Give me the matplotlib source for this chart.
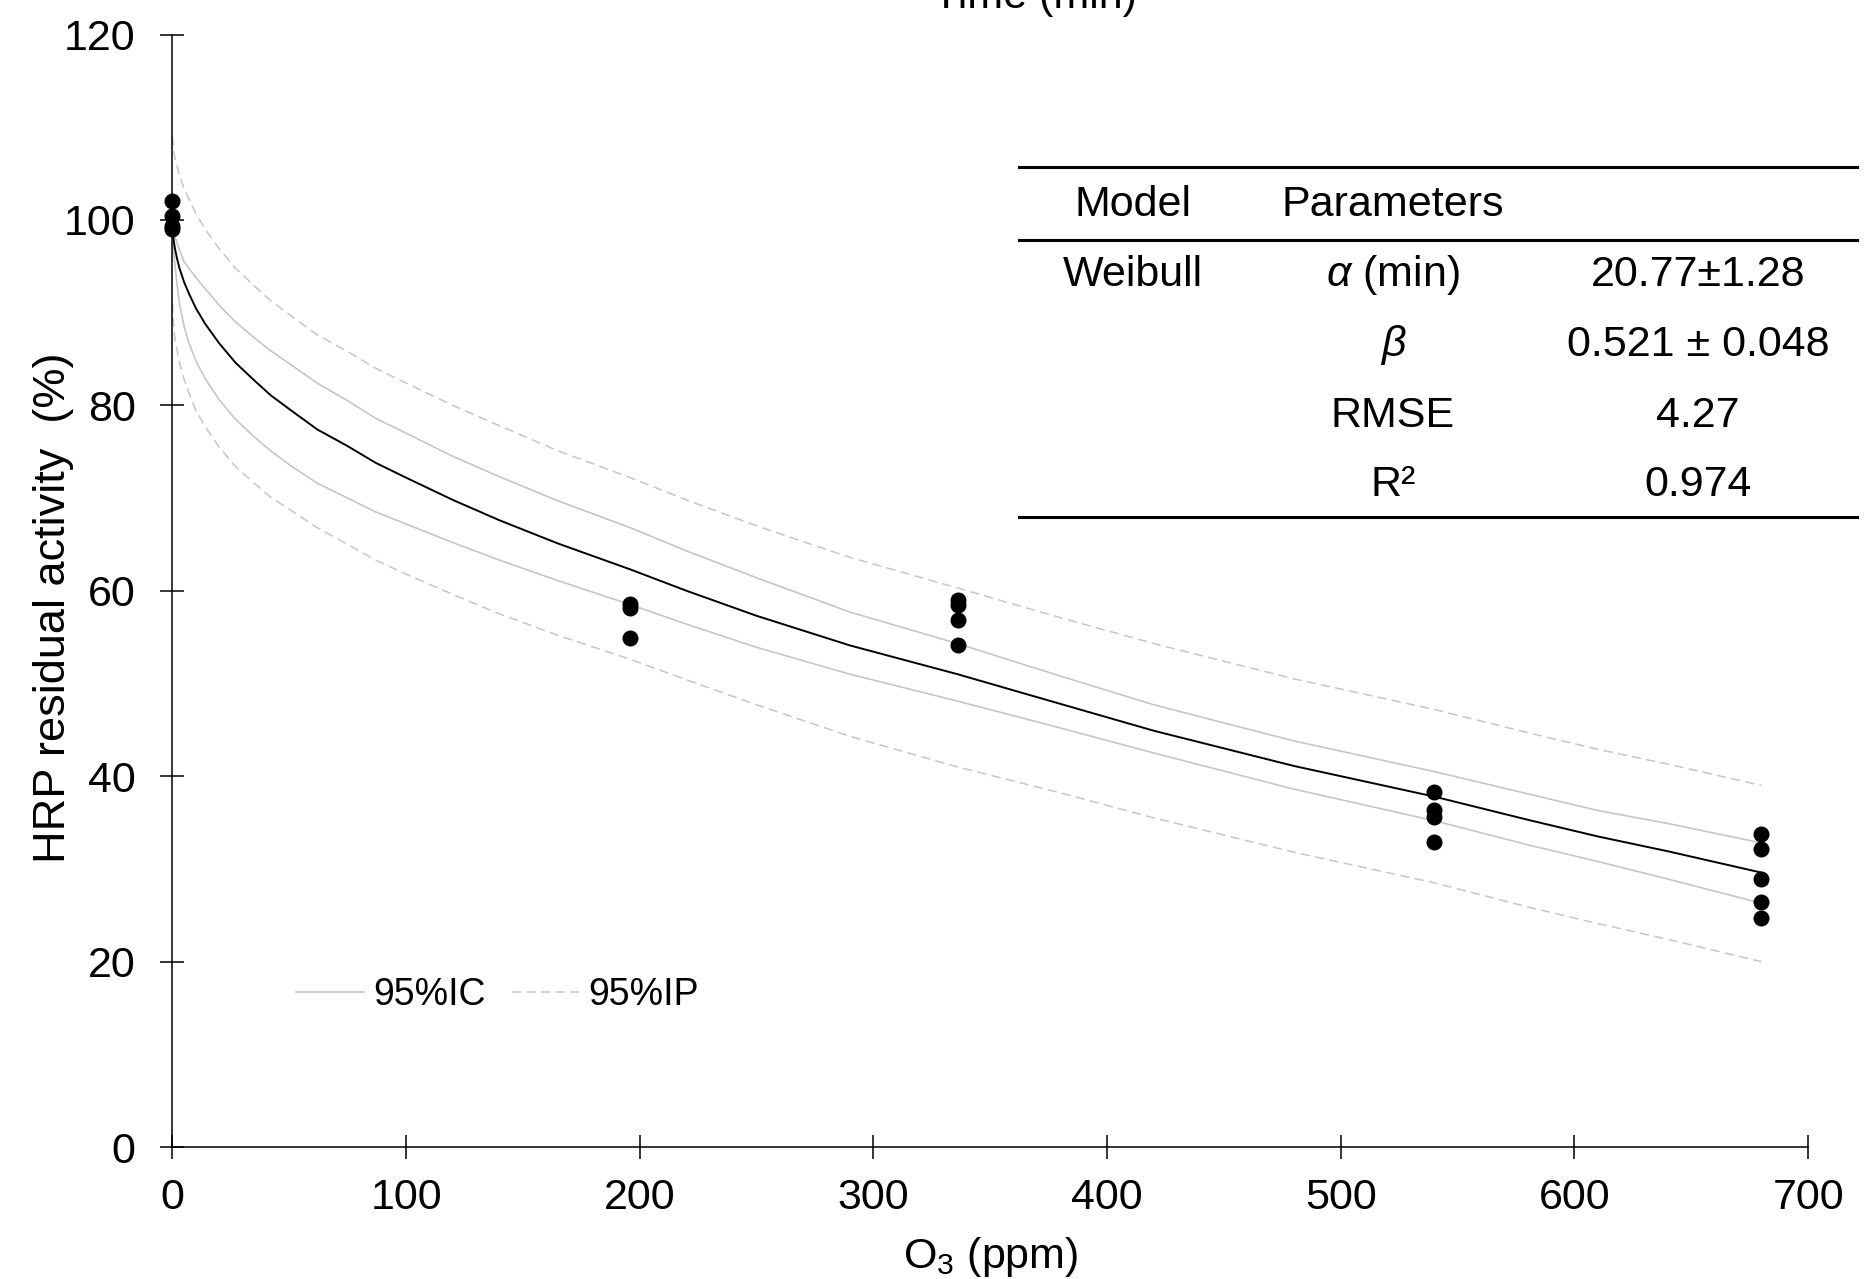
import matplotlib
matplotlib.use("Agg")
import matplotlib.pyplot as plt
from matplotlib.lines import Line2D

plt.rcParams['font.family'] = ['Liberation Sans', 'DejaVu Sans']
plt.rcParams['mathtext.fontset'] = 'custom'
plt.rcParams['mathtext.rm'] = 'Liberation Sans'
plt.rcParams['mathtext.it'] = 'Liberation Sans:italic'

# mesures (O3 en ppm, activité résiduelle en %)
x_mes = [0, 0, 0, 0,
         196, 196, 196,
         336, 336, 336, 336,
         540, 540, 540, 540,
         680, 680, 680, 680, 680]
y_mes = [102.0, 100.4, 99.3, 99.0,
         58.6, 58.1, 54.9,
         59.0, 58.5, 56.9, 54.1,
         38.3, 36.3, 35.6, 32.9,
         33.8, 32.1, 28.9, 26.4, 24.7]

# courbes
x_courbe = [0, 0.5, 1, 1.5, 2, 3, 5, 7, 10, 14, 20, 27, 35, 42, 50, 62, 75, 87, 100, 120,
            140, 165, 196, 220, 250, 290, 336, 380, 420, 480, 540, 580, 610, 640, 680]
y_modele = [100, 97.9, 97.0, 96.4, 95.8, 94.8, 93.3, 92.1, 90.5, 88.8, 86.7, 84.6, 82.7, 81.1,
            79.6, 77.4, 75.6, 73.8, 72.2, 69.8, 67.6, 65.1, 62.3, 60.0, 57.3, 54.1, 51.0, 47.8,
            44.9, 41.1, 37.8, 35.3, 33.5, 31.9, 29.6]
ic_haut = [100, 98.8, 98.3, 97.9, 97.5, 96.8, 95.5, 94.8, 93.8, 92.6, 90.8, 89.0, 87.3, 85.9,
           84.5, 82.4, 80.5, 78.6, 77.0, 74.5, 72.3, 69.7, 66.8, 64.3, 61.4, 57.7, 54.3, 50.8,
           47.7, 43.8, 40.5, 38.1, 36.3, 34.9, 32.8]
ic_bas = [100, 96.5, 95.4, 94.2, 93.0, 91.0, 88.5, 86.8, 84.8, 82.9, 80.6, 78.5, 76.6, 75.1,
          73.6, 71.6, 70.0, 68.5, 67.2, 65.2, 63.3, 61.1, 58.5, 56.4, 53.9, 51.0, 48.1, 45.2,
          42.5, 38.6, 35.2, 32.6, 30.8, 28.9, 26.3]
ip_haut = [109.0, 107.5, 106.8, 106.3, 105.8, 104.8, 103.4, 102.3, 100.7, 99.0, 96.9, 94.8,
           92.9, 91.3, 89.8, 87.6, 85.8, 84.0, 82.4, 80.0, 77.8, 75.1, 72.2, 69.8, 67.0, 63.6,
           60.3, 57.1, 54.3, 50.5, 47.2, 44.7, 42.9, 41.3, 39.0]
ip_bas = [91.0, 88.5, 87.4, 86.6, 86.0, 84.6, 82.8, 81.4, 79.5, 77.7, 75.5, 73.4, 71.6, 70.1,
          68.8, 66.8, 65.0, 63.3, 61.8, 59.6, 57.5, 55.2, 52.6, 50.4, 47.7, 44.3, 41.0, 38.2,
          35.5, 31.8, 28.5, 25.9, 24.1, 22.4, 20.0]

# tableau des paramètres
tab_entete = ["Model", "Parameters"]
tab_modele = "Weibull"
tab_params = [r"$\it{\alpha}$ (min)", r"$\it{\beta}$", "RMSE", "R²"]
tab_valeurs = ["20.77±1.28", "0.521 ± 0.048", "4.27", "0.974"]

fs = 31
gris = "#c6c6c6"

fig = plt.figure(figsize=(18.64, 12.79), dpi=100)
ax = fig.add_axes([0.0925, 0.1032, 0.8775, 0.8698])

ax.plot(x_courbe, ip_haut, color=gris, lw=1.1, dashes=(6, 3.5), label="95%IP", clip_on=False)
ax.plot(x_courbe, ip_bas, color=gris, lw=1.1, dashes=(6, 3.5), clip_on=False)
ax.plot(x_courbe, ic_haut, color=gris, lw=1.2, label="95%IC", clip_on=False)
ax.plot(x_courbe, ic_bas, color=gris, lw=1.2, clip_on=False)
ax.plot(x_courbe, y_modele, color="black", lw=1.4, clip_on=False)
ax.plot(x_mes, y_mes, "o", color="black", ms=10.5, clip_on=False, zorder=5)

ax.set_xlim(0, 700)
ax.set_ylim(0, 120)
ax.set_xticks(range(0, 701, 100))
ax.set_yticks(range(0, 121, 20))
ax.spines["top"].set_visible(False)
ax.spines["right"].set_visible(False)
for s in ["left", "bottom"]:
    ax.spines[s].set_linewidth(1.1)
ax.tick_params(direction="inout", length=17, width=1.1, labelsize=fs)
ax.tick_params(axis="x", pad=14)
ax.tick_params(axis="y", pad=18)

ax.set_xlabel("O$_3$ (ppm)", fontsize=fs, labelpad=12)
ax.set_ylabel("HRP residual activity  (%)", fontsize=32.5)
ax.yaxis.set_label_coords(-0.0602, 0.485)

# légende (ordre IC puis IP)
h, l = ax.get_legend_handles_labels()
ax.legend([h[1], h[0]], [l[1], l[0]], loc="center left", bbox_to_anchor=(0.0756, 0.1366),
          ncol=2, frameon=False, fontsize=27, handlelength=1.8, handletextpad=0.25,
          columnspacing=0.7, borderpad=0, borderaxespad=0)

# titre de l'axe du temps (coupé en haut)
fig.text(0.555, 0.9937, "Time (min)", fontsize=fs, ha="center", va="baseline")

# tableau
for yy in [0.8698, 0.8124, 0.5958]:
    fig.add_artist(Line2D([0.5467, 0.9962], [yy, yy], color="black", lw=2.2))
col = [0.6078, 0.7473, 0.9109]
lig = [0.7853, 0.7304, 0.6747, 0.6208]
fig.text(col[0], 0.8401, tab_entete[0], fontsize=fs, ha="center", va="center")
fig.text(col[1], 0.8401, tab_entete[1], fontsize=fs, ha="center", va="center")
fig.text(col[0], lig[0], tab_modele, fontsize=fs, ha="center", va="center")
for i in range(len(tab_params)):
    fig.text(col[1], lig[i], tab_params[i], fontsize=fs, ha="center", va="center")
    fig.text(col[2], lig[i], tab_valeurs[i], fontsize=fs, ha="center", va="center")

plt.savefig("out.png", dpi=100)
